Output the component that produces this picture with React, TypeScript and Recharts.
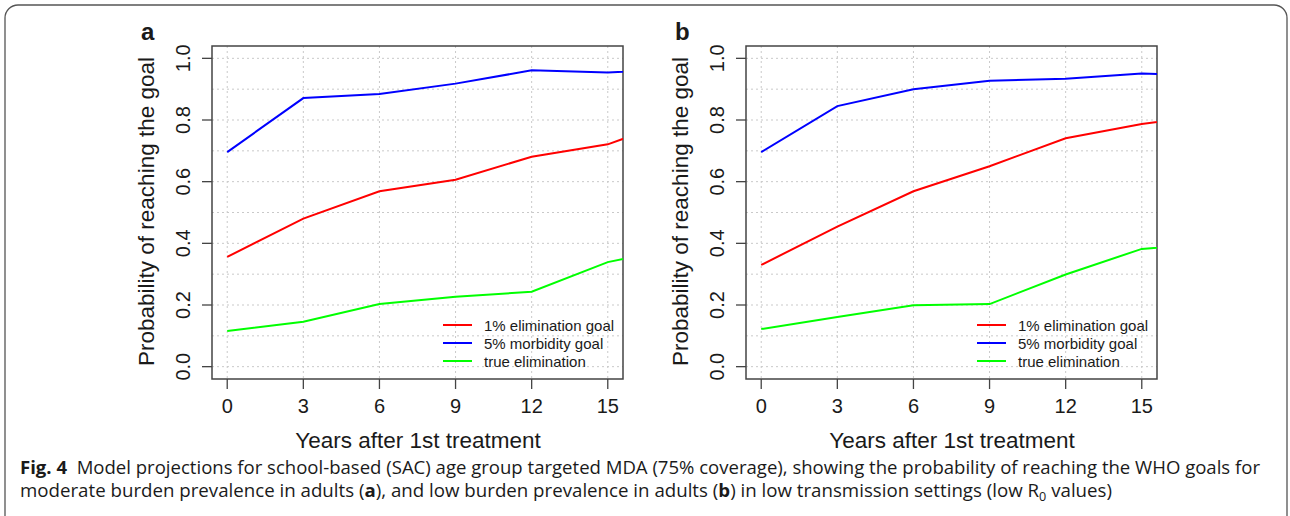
import React from 'react'
import {
  LineChart,
  Line,
  XAxis,
  YAxis,
  CartesianGrid,
  ReferenceArea
} from 'recharts'

// years after 1st treatment (last point lies past the visible range and is clipped)
const years = [0, 3, 6, 9, 12, 15, 18]

// panel a: moderate burden prevalence in adults
const elimA = [0.356, 0.48, 0.569, 0.606, 0.681, 0.721, 0.81]
const morbA = [0.696, 0.871, 0.884, 0.918, 0.961, 0.954, 0.965]
const trueA = [0.116, 0.146, 0.203, 0.227, 0.243, 0.339, 0.39]

// panel b: low burden prevalence in adults
const elimB = [0.33, 0.454, 0.569, 0.65, 0.741, 0.787, 0.82]
const morbB = [0.696, 0.845, 0.9, 0.927, 0.934, 0.951, 0.94]
const trueB = [0.122, 0.161, 0.199, 0.203, 0.299, 0.382, 0.4]

const xTicks = [0, 3, 6, 9, 12, 15]
const yTicks = [0, 0.2, 0.4, 0.6, 0.8, 1.0]
const yGrid = [0, 0.1, 0.2, 0.3, 0.4, 0.5, 0.6, 0.7, 0.8, 0.9, 1.0]

const seriesNames = ['1% elimination goal', '5% morbidity goal', 'true elimination']
const seriesKeys = ['elim', 'morb', 'trueElim']
const seriesColors = ['#ff0000', '#0000ff', '#00ff00']

const FONT = '"Liberation Sans", Arial, Helvetica, sans-serif'
const INK = '#1a1a1a'

function buildRows(elim: number[], morb: number[], trueElim: number[]) {
  return years.map((year, i) => ({
    year,
    elim: elim[i],
    morb: morb[i],
    trueElim: trueElim[i]
  }))
}

const rowsA = buildRows(elimA, morbA, trueA)
const rowsB = buildRows(elimB, morbB, trueB)

const YTick = ({ x, y, payload }: any) => (
  <text
    x={x}
    y={y}
    transform={`rotate(-90, ${x}, ${y})`}
    textAnchor="middle"
    fontSize={20}
    fontFamily={FONT}
    fill={INK}
  >
    {Number(payload.value).toFixed(1)}
  </text>
)

const XTick = ({ x, y, payload }: any) => (
  <text x={x} y={y} textAnchor="middle" fontSize={20} fontFamily={FONT} fill={INK}>
    {payload.value}
  </text>
)

function Panel({ rows, left }: { rows: any[]; left: number }) {
  return (
    <div style={{ position: 'absolute', left, top: 0 }}>
      <LineChart
        width={660}
        height={460}
        data={rows}
        margin={{ top: 46, right: 37, left: 140, bottom: 21 }}
      >
        <CartesianGrid
          stroke="#c9c9c9"
          strokeDasharray="2 3"
          horizontalValues={yGrid}
          verticalValues={xTicks}
        />
        <XAxis
          dataKey="year"
          type="number"
          domain={[-0.6, 15.6]}
          allowDataOverflow
          ticks={xTicks}
          axisLine={false}
          tickLine={{ stroke: '#444', strokeWidth: 1.3 }}
          tickSize={10}
          tickMargin={24}
          tick={<XTick />}
          height={60}
        />
        <YAxis
          type="number"
          domain={[-0.04, 1.04]}
          allowDataOverflow
          ticks={yTicks}
          axisLine={false}
          tickLine={{ stroke: '#444', strokeWidth: 1.3 }}
          tickSize={10}
          tickMargin={12}
          tick={<YTick />}
          width={72}
        />
        <ReferenceArea
          x1={-0.6}
          x2={15.6}
          y1={-0.04}
          y2={1.04}
          fill="none"
          fillOpacity={0}
          stroke="#444"
          strokeWidth={1.5}
        />
        {seriesKeys.map((key, i) => (
          <Line
            key={key}
            type="linear"
            dataKey={key}
            stroke={seriesColors[i]}
            strokeWidth={2}
            dot={false}
            isAnimationActive={false}
          />
        ))}
      </LineChart>
    </div>
  )
}

// legend, panel letter and axis titles for one panel, shifted by dx
function PanelText({ dx, letter }: { dx: number; letter: string }) {
  return (
    <g transform={`translate(${dx}, 0)`} fontFamily={FONT} fill={INK}>
      <text x={141} y={39.5} fontSize={24} fontWeight="bold">
        {letter}
      </text>
      <text
        x={154}
        y={211.5}
        transform="rotate(-90, 154, 211.5)"
        textAnchor="middle"
        fontSize={22.5}
      >
        Probability of reaching the goal
      </text>
      <text x={418} y={448} textAnchor="middle" fontSize={22.5}>
        Years after 1st treatment
      </text>
      {seriesNames.map((name, i) => (
        <g key={name}>
          <line
            x1={443}
            x2={472}
            y1={325 + i * 18}
            y2={325 + i * 18}
            stroke={seriesColors[i]}
            strokeWidth={2}
          />
          <text x={484} y={325 + i * 18 + 5.5} fontSize={15}>
            {name}
          </text>
        </g>
      ))}
    </g>
  )
}

export default function App() {
  return (
    <div
      style={{
        position: 'absolute',
        left: 0,
        top: 0,
        width: 1290,
        height: 516,
        background: '#fff',
        overflow: 'hidden'
      }}
    >
      <Panel rows={rowsA} left={0} />
      <Panel rows={rowsB} left={534} />
      <svg
        width={1290}
        height={516}
        style={{ position: 'absolute', left: 0, top: 0, pointerEvents: 'none' }}
      >
        <rect x={5} y={5} width={1282} height={540} rx={13} fill="none" stroke="#555" strokeWidth={1.3} />
        <PanelText dx={0} letter="a" />
        <PanelText dx={534} letter="b" />
        <g fontFamily='"Open Sans", "Noto Sans", sans-serif' fill={INK} fontSize={18.5}>
          <text x={20} y={474} textLength={1240} lengthAdjust="spacingAndGlyphs">
            <tspan fontWeight="bold">Fig. 4</tspan>
            <tspan>{'\u00a0\u00a0Model projections for school-based (SAC) age group targeted MDA (75% coverage), showing the probability of reaching the WHO goals for'}</tspan>
          </text>
          <text x={20} y={497} textLength={1092} lengthAdjust="spacingAndGlyphs">
            <tspan>moderate burden prevalence in adults (</tspan>
            <tspan fontWeight="bold">a</tspan>
            <tspan>), and low burden prevalence in adults (</tspan>
            <tspan fontWeight="bold">b</tspan>
            <tspan>) in low transmission settings (low R</tspan>
            <tspan fontSize={12.5} dy={4}>0</tspan>
            <tspan dy={-4}> values)</tspan>
          </text>
        </g>
      </svg>
    </div>
  )
}
